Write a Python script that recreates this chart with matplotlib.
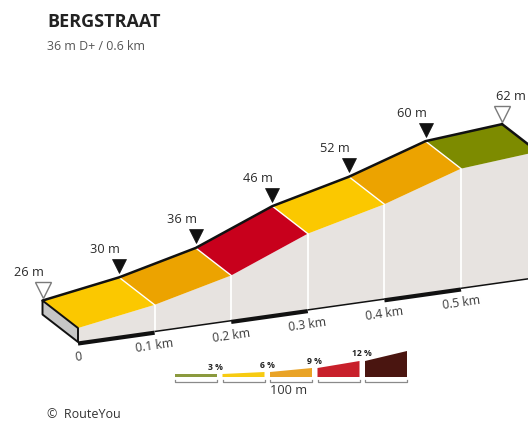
import numpy as np
import matplotlib
matplotlib.use("Agg")
import matplotlib.pyplot as plt
from matplotlib.transforms import Affine2D
from matplotlib.patches import Polygon

# ---------------- data ----------------
distance_km = [0.0, 0.1, 0.2, 0.3, 0.4, 0.5, 0.6]
elevation_m = [26, 30, 36, 46, 52, 60, 62]
segment_colors = ["#fbc800", "#eca300", "#c8001c", "#fbc800", "#eca300", "#7d8b00"]
tick_km = [0.0, 0.1, 0.2, 0.3, 0.4, 0.5]
tick_labels = ["0", "0.1 km", "0.2 km", "0.3 km", "0.4 km", "0.5 km"]
legend_labels = ["3 %", "6 %", "9 %", "12 %"]
legend_colors = ["#8b9a3e", "#f7cb12", "#e9a326", "#c8202b", "#4a1510"]
legend_edge_heights = [3, 3, 5, 9, 16, 26]
title = "BERGSTRAAT"
subtitle = "36 m D+ / 0.6 km"
credit = "©  RouteYou"
scale_label = "100 m"

# ---------------- layout ----------------
W, H = 528, 421
FONT = ["Open Sans", "DejaVu Sans"]
plt.rcParams["font.family"] = FONT

fig = plt.figure(figsize=(W / 100, H / 100), dpi=100)
ax = fig.add_axes([0, 0, 1, 1])
ax.set_xlim(0, W)
ax.set_ylim(H, 0)
ax.axis("off")

BASE = 21.5           # elevation of the block floor
front = Affine2D.from_values(766, -108, 0, -3.1, 78, 342 + 3.1 * BASE)
back = front + Affine2D().translate(-35.5, -27.5)

n = len(distance_km)
pts = np.column_stack([distance_km, elevation_m])
floor = np.column_stack([distance_km, [BASE] * n])
F = front.transform(pts)
B = back.transform(pts)
FB = front.transform(floor)
BB = back.transform(floor)

FACE = "#e7e3e0"
# front face
ax.add_patch(Polygon(np.vstack([F, FB[::-1]]), closed=True, fc=FACE, ec="none", zorder=1))
# white dividers on front face
for i in range(1, n):
    ax.plot([F[i, 0], FB[i, 0]], [F[i, 1], FB[i, 1]], color="white", lw=1.3, zorder=2)

# top coloured strips
for i in range(n - 1):
    quad = np.array([B[i], B[i + 1], F[i + 1], F[i]])
    ax.add_patch(Polygon(quad, closed=True, fc=segment_colors[i], ec="none", zorder=3))
for i in range(1, n - 1):
    ax.plot([B[i, 0], F[i, 0]], [B[i, 1], F[i, 1]], color="white", lw=1.0, zorder=4)

# outline of back edge and right end
ax.plot(B[:, 0], B[:, 1], color="#111111", lw=1.8, zorder=5, solid_capstyle="round")
ax.plot([B[-1, 0], F[-1, 0]], [B[-1, 1], F[-1, 1]], color="#111111", lw=1.8, zorder=5)

# left side face
ax.add_patch(Polygon(np.array([B[0], F[0], FB[0], BB[0]]), closed=True,
                     fc="#c6c6c6", ec="#111111", lw=1.4, zorder=6, joinstyle="round"))

# baseline scale bar (alternating thick/thin)
for i in range(n - 1):
    thick = (i % 2 == 0) and i < 5
    off = 1.5 if thick else 0.3
    ax.plot([FB[i, 0], FB[i + 1, 0]], [FB[i, 1] + off, FB[i + 1, 1] + off],
            color="#111111", lw=3.0 if thick else 1.1, zorder=6, solid_capstyle="butt")

# tick labels
ang = np.degrees(np.arctan2(108, 766))
tick_pts = front.transform(np.column_stack([tick_km, [BASE] * len(tick_km)]))
for (x, y), lab in zip(tick_pts, tick_labels):
    ax.text(x, y + 15, lab, rotation=ang, ha="center", va="center",
            fontsize=8.8, color="#3a3a3a", rotation_mode="anchor", zorder=7)

# markers and elevation labels
for i in range(n):
    x, y = B[i]
    if i == 0 or i == n - 1:
        ax.plot(x, y - 10.5, marker="v", ms=11, mfc="white", mec="#7a7a7a", mew=1.0, zorder=8)
    else:
        ax.plot(x, y - 11.5, marker="v", ms=9.5, mfc="#111111", mec="#111111", mew=0.5, zorder=8)
    if i == n - 1:
        ax.text(x + 9, y - 28, f"{elevation_m[i]} m", ha="center", va="center",
                fontsize=9.2, color="#2a2a2a", zorder=8)
    else:
        ax.text(x + 1, y - 28, f"{elevation_m[i]} m", ha="right", va="center",
                fontsize=9.2, color="#2a2a2a", zorder=8)

# titles
ax.text(47, 22, title, ha="left", va="center", fontsize=13, fontweight="bold", color="#222222")
ax.text(47, 47, subtitle, ha="left", va="center", fontsize=8.9, color="#555555")
ax.text(47, 414, credit, ha="left", va="center", fontsize=9, color="#333333")

# legend
LX0, LW, LGAP, LY = 175, 42, 5.5, 377
for k, col in enumerate(legend_colors):
    x0 = LX0 + k * (LW + LGAP)
    x1 = x0 + LW
    hl, hr = legend_edge_heights[k], legend_edge_heights[k + 1]
    ax.add_patch(Polygon(np.array([[x0, LY], [x1, LY], [x1, LY - hr], [x0, LY - hl]]),
                         closed=True, fc=col, ec="none", zorder=5))
    # bracket
    ax.plot([x0, x0, x1, x1], [LY + 3, LY + 5, LY + 5, LY + 3], color="#8a8a8a", lw=0.9, zorder=5)
for k, lab in enumerate(legend_labels):
    xb = LX0 + (k + 1) * (LW + LGAP) - LGAP / 2
    top = legend_edge_heights[k + 1]
    ax.text(xb - (4 if k == 0 else 0), LY - top - 7, lab, ha="center", va="center",
            fontsize=6.2, fontweight="bold", color="#222222", zorder=6)
ax.text(LX0 + 2.5 * (LW + LGAP) - LGAP / 2 - 2, 391, scale_label, ha="center", va="center",
        fontsize=9.2, color="#333333")

fig.savefig("out.png", dpi=100)
